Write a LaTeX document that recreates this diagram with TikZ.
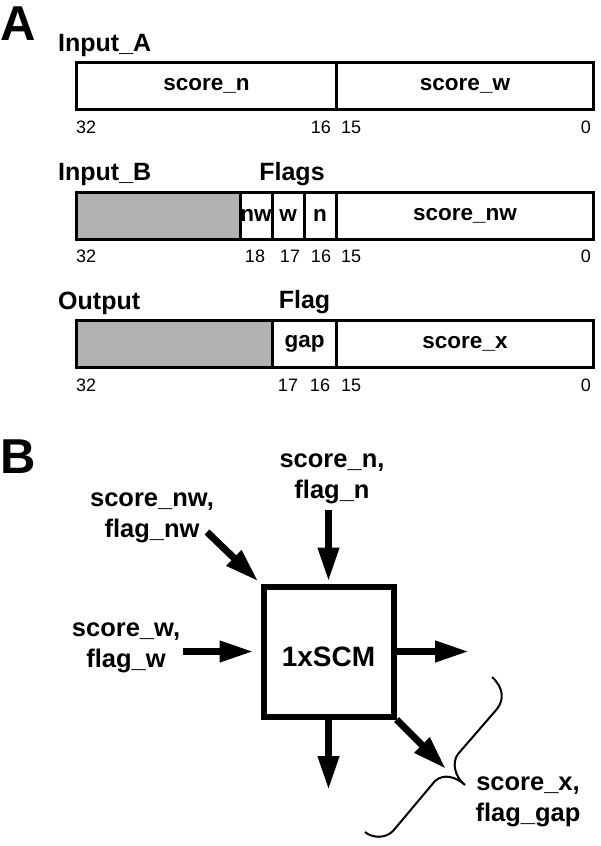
\documentclass[tikz,border=0pt]{standalone}
\usepackage{fontspec}
\setmainfont{Liberation Sans}
\usetikzlibrary{arrows.meta}

\begin{document}
\begin{tikzpicture}[x=1pt,y=-1pt,
    reg/.style={line width=3pt},
    field/.style={font=\fontsize{22.5}{27}\selectfont\bfseries,inner sep=0pt},
    bitno/.style={font=\fontsize{18}{21}\selectfont,inner sep=0pt},
    regname/.style={font=\fontsize{25}{30}\selectfont\bfseries,anchor=base west,inner sep=0pt},
    panel/.style={font=\fontsize{49}{55}\selectfont\bfseries,anchor=base west,inner sep=0pt},
    sig/.style={font=\fontsize{25.5}{30.5}\selectfont\bfseries,align=center,inner sep=0pt,anchor=base},
    bus/.style={line width=7pt,-{Triangle[length=34pt,width=20pt]}}]
    \useasboundingbox (0,0) rectangle (600,846);
    % A: register layouts
    \node[panel] (pA) at (0,40) {A};
    \node[regname] (inA) at (58,51) {Input\_A};
    \draw[reg] (76.5,62.5) rectangle (593.5,109.5);
    \draw[reg] (336.5,62.5) -- (336.5,109.5);
    \node[field] (sn) at (206.5,86) {score\_n};
    \node[field] (sw) at (465,86) {score\_w};
    \node[bitno,anchor=west] at (76,127) {32};
    \node[bitno,anchor=east] at (331,127) {16};
    \node[bitno,anchor=west] at (341,127) {15};
    \node[bitno,anchor=east] at (591,127) {0};

    \node[regname] (inB) at (58,180) {Input\_B};
    \node[regname,anchor=base] (flgs) at (292,180) {Flags};
    \draw[reg,fill=black!30] (76.5,192) rectangle (240,239);
    \draw[reg] (240,192) rectangle (593.5,239);
    \draw[reg] (272,192) -- (272,239);
    \draw[reg] (304,192) -- (304,239);
    \draw[reg] (336.5,192) -- (336.5,239);
    \node[field] (fnw) at (256,215.5) {nw};
    \node[field] (fw) at (288,215.5) {w};
    \node[field] (fn) at (320,215.5) {n};
    \node[field] (snw) at (465,215.5) {score\_nw};
    \node[bitno,anchor=west] at (76,256) {32};
    \node[bitno] at (255,256) {18};
    \node[bitno] at (290,256) {17};
    \node[bitno] at (321,256) {16};
    \node[bitno,anchor=west] at (341,256) {15};
    \node[bitno,anchor=east] at (591,256) {0};

    \node[regname] (outp) at (58,309) {Output};
    \node[regname,anchor=base] (flg) at (304.5,308) {Flag};
    \draw[reg,fill=black!30] (76.5,320.5) rectangle (272,367.5);
    \draw[reg] (272,320.5) rectangle (593.5,367.5);
    \draw[reg] (336.5,320.5) -- (336.5,367.5);
    \node[field] (fgap) at (304.5,344) {gap};
    \node[field] (sx) at (465,344) {score\_x};
    \node[bitno,anchor=west] at (76,385) {32};
    \node[bitno] at (288,385) {17};
    \node[bitno] at (320,385) {16};
    \node[bitno,anchor=west] at (341,385) {15};
    \node[bitno,anchor=east] at (591,385) {0};

    % B: one cell of the matrix
    \node[panel] (pB) at (0,473) {B};
    \node[draw,line width=6pt,minimum size=130pt,inner sep=0pt,text height=30pt,
          font=\fontsize{28}{33}\selectfont\bfseries] (scm) at (328.5,651.5) {1xSCM};
    \node[sig] (lab_n) at (332,498) {score\_n,\\flag\_n};
    \node[sig] (lab_nw) at (152,537) {score\_nw,\\flag\_nw};
    \node[sig] (lab_w) at (126,667) {score\_w,\\flag\_w};
    \node[sig] (lab_x) at (528,821) {score\_x,\\flag\_gap};
    \coordinate (n_in) at (328.5,510);
    \coordinate (nw_in) at (207,532);
    \coordinate (w_in) at (183,651.5);
    \coordinate (e_out) at (469,651.5);
    \coordinate (s_out) at (328.5,790);
    \coordinate (se_out) at (446,769);
    \draw[bus,shorten >=2pt] (n_in) -- (scm.north);
    \draw[bus,shorten >=3pt] (nw_in) -- (scm.north west);
    \draw[bus,shorten >=7pt] (w_in) -- (scm.west);
    \draw[bus] (scm.east) -- (e_out);
    \draw[bus] (scm.south) -- (s_out);
    \draw[bus] (scm.south east) -- (se_out);
    % brace in front of the outputs
    \draw[line width=2pt] (492,677) .. controls (504,688) and (504,700) .. (497,709)
        -- (458,754) .. controls (452,762) and (454,776) .. (465,785)
        .. controls (456,777) and (444,773) .. (435,781)
        -- (393,831) .. controls (385,839) and (372,838) .. (365,832);
\end{tikzpicture}
\end{document}
